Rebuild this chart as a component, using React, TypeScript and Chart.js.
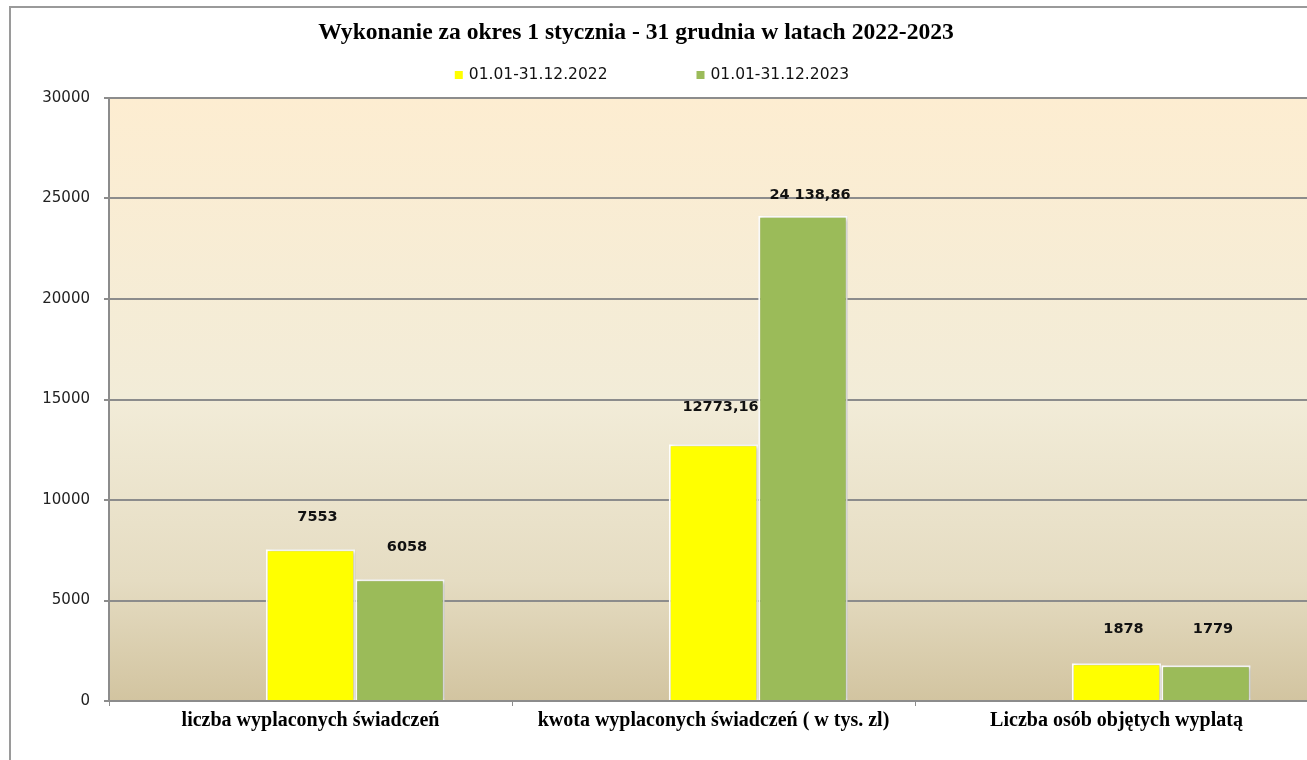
import React, { useEffect, useRef } from "react";
import { Chart, registerables } from "chart.js";

Chart.register(...registerables);

// ---- data ----
const chartTitle = "Wykonanie za okres 1 stycznia - 31 grudnia w latach 2022-2023";
const categories = [
  "liczba wyplaconych świadczeń",
  "kwota wyplaconych świadczeń ( w tys. zl)",
  "Liczba osób objętych wyplatą",
];
const seriesNames = ["01.01-31.12.2022", "01.01-31.12.2023"];
const values2022 = [7553, 12773.16, 1878];
const values2023 = [6058, 24138.86, 1779];
const labels2022 = ["7553", "12773,16", "1878"];
const labels2023 = ["6058", "24 138,86", "1779"];
const yMin = 0;
const yMax = 30000;
const yStep = 5000;

// ---- styling ----
const seriesColors = ["#FFFF00", "#9BBB59"];
const labelLift2022 = [32, 37, 34];
const labelLift2023 = [32, 21, 36];
const GRID = "#8c8c8c";

const CANVAS_W = 1360;
const CANVAS_H = 760;

const backgroundPlugin = {
  id: "plotBackground",
  beforeDraw(chart: any) {
    const { ctx, chartArea } = chart;
    if (!chartArea) return;
    const g = ctx.createLinearGradient(0, chartArea.top, 0, chartArea.bottom);
    g.addColorStop(0, "#FDEDD1");
    g.addColorStop(0.5, "#F2ECD8");
    g.addColorStop(0.8, "#E5DCC2");
    g.addColorStop(1, "#D2C4A0");
    ctx.save();
    ctx.fillStyle = g;
    ctx.fillRect(chartArea.left, chartArea.top, chartArea.right - chartArea.left, chartArea.bottom - chartArea.top);
    ctx.restore();
  },
};

const shadowPlugin = {
  id: "barShadow",
  beforeDatasetDraw(chart: any) {
    const ctx = chart.ctx;
    ctx.save();
    ctx.shadowColor = "rgba(0,0,0,0.22)";
    ctx.shadowBlur = 4;
    ctx.shadowOffsetX = 2;
    ctx.shadowOffsetY = 1;
  },
  afterDatasetDraw(chart: any) {
    chart.ctx.restore();
  },
};

const annotationPlugin = {
  id: "annotations",
  afterDraw(chart: any) {
    const { ctx } = chart;
    ctx.save();

    // title
    ctx.fillStyle = "#000";
    ctx.font = "bold 23.6px 'Liberation Serif', 'Times New Roman', serif";
    ctx.textAlign = "center";
    ctx.textBaseline = "middle";
    ctx.fillText(chartTitle, 636, 33);

    // legend
    ctx.font = "15.5px 'DejaVu Sans', sans-serif";
    ctx.textAlign = "left";
    const box = 8;
    const boxGap = 6;
    const itemGap = 89;
    const widths = seriesNames.map((n) => box + boxGap + ctx.measureText(n).width);
    const total = widths.reduce((a, b) => a + b, 0) + itemGap * (seriesNames.length - 1);
    let x = 652 - total / 2;
    const ly = 75;
    seriesNames.forEach((name, i) => {
      ctx.fillStyle = seriesColors[i];
      ctx.fillRect(x, ly - box / 2, box, box);
      ctx.fillStyle = "#111";
      ctx.fillText(name, x + box + boxGap, ly);
      x += widths[i] + itemGap;
    });

    // data labels
    ctx.font = "bold 14.5px 'DejaVu Sans', sans-serif";
    ctx.textAlign = "center";
    ctx.fillStyle = "#111";
    const sets = [
      { idx: 1, labels: labels2022, lift: labelLift2022 },
      { idx: 2, labels: labels2023, lift: labelLift2023 },
    ];
    sets.forEach((s) => {
      const meta = chart.getDatasetMeta(s.idx);
      meta.data.forEach((bar: any, i: number) => {
        ctx.fillText(s.labels[i], bar.x + 7, bar.y - s.lift[i]);
      });
    });

    ctx.restore();
  },
};

export default function App() {
  const canvasRef = useRef<HTMLCanvasElement | null>(null);

  useEffect(() => {
    const canvas = canvasRef.current;
    if (!canvas) return;
    const chart = new Chart(canvas, {
      type: "bar",
      data: {
        labels: categories,
        datasets: [
          {
            label: "",
            data: categories.map(() => null),
            backgroundColor: "rgba(0,0,0,0)",
          },
          {
            label: seriesNames[0],
            data: values2022,
            backgroundColor: seriesColors[0],
            borderColor: "#ffffff",
            borderWidth: 2,
          },
          {
            label: seriesNames[1],
            data: values2023,
            backgroundColor: seriesColors[1],
            borderColor: "#ffffff",
            borderWidth: 2,
          },
        ],
      },
      options: {
        animation: false,
        responsive: false,
        devicePixelRatio: 1,
        layout: { padding: { left: 0, right: 42, top: 98, bottom: 0 } },
        datasets: {
          bar: { categoryPercentage: 0.666, barPercentage: 1 },
        },
        plugins: {
          legend: { display: false },
          title: { display: false },
          tooltip: { enabled: false },
        },
        scales: {
          x: {
            offset: true,
            grid: {
              display: true,
              drawOnChartArea: false,
              drawTicks: true,
              tickLength: 5,
              color: GRID,
              lineWidth: 1,
              offset: true,
            },
            border: { display: true, color: GRID, width: 2 },
            ticks: {
              color: "#000",
              padding: 3,
              font: { family: "'Liberation Serif', 'Times New Roman', serif", size: 20, weight: "bold" },
              maxRotation: 0,
              autoSkip: false,
            },
            afterFit(scale: any) {
              scale.height = 59;
            },
          },
          y: {
            min: yMin,
            max: yMax,
            ticks: {
              stepSize: yStep,
              color: "#222",
              padding: 14,
              font: { family: "'DejaVu Sans', sans-serif", size: 15 },
              callback: (value: any) => String(value),
            },
            grid: {
              color: GRID,
              lineWidth: 2,
              drawTicks: true,
              tickLength: 5,
            },
            border: { display: true, color: GRID, width: 2 },
            afterFit(scale: any) {
              scale.width = 109;
            },
          },
        },
      },
      plugins: [backgroundPlugin, shadowPlugin, annotationPlugin],
    });
    return () => chart.destroy();
  }, []);

  return (
    <div
      style={{
        position: "fixed",
        left: 0,
        top: 0,
        width: 1307,
        height: 760,
        overflow: "hidden",
        background: "#ffffff",
      }}
    >
      <div
        style={{
          position: "absolute",
          left: 9,
          top: 6,
          width: 1400,
          height: 800,
          borderLeft: "2px solid #9a9a9a",
          borderTop: "2px solid #9a9a9a",
          boxSizing: "border-box",
        }}
      />
      <canvas
        ref={canvasRef}
        width={CANVAS_W}
        height={CANVAS_H}
        style={{ position: "absolute", left: 0, top: 0, width: CANVAS_W, height: CANVAS_H }}
      />
    </div>
  );
}
